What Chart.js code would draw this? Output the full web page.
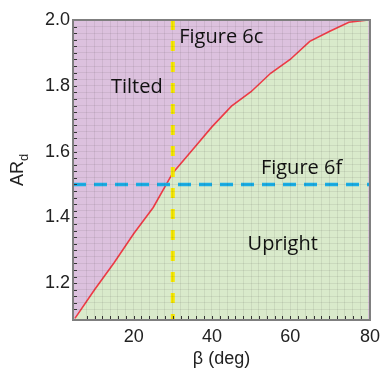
<!DOCTYPE html>
<html>
<head>
<meta charset="utf-8">
<script src="https://cdn.jsdelivr.net/npm/chart.js@4.4.0/dist/chart.umd.min.js"></script>
<style>
  html, body { margin: 0; padding: 0; background: #fff; }
  #wrap { width: 386px; height: 368px; }
</style>
</head>
<body>
<div id="wrap"><canvas id="myChart" width="386" height="368"></canvas></div>
<script>
// critical aspect ratio AR_d against tilt angle beta
var betaDeg = [5, 10, 15, 20, 25, 30, 35, 40, 45, 50, 55, 60, 65, 70, 75, 80];
var arCritical = [1.093, 1.18, 1.262, 1.35, 1.43, 1.535, 1.605, 1.675, 1.738, 1.782, 1.838, 1.88, 1.935, 1.965, 1.993, 2.0];

// the two cuts shown as dashed lines
var fig6cBeta = [30, 30];
var fig6cAR = [2.0, 1.088];
var fig6fBeta = [4.5, 80.4];
var fig6fAR = [1.5, 1.5];

var xTickLabels = [20, 40, 60, 80];
var yTickLabels = [1.2, 1.4, 1.6, 1.8, 2.0];
var xRange = [4.5, 80.4];
var yRange = [1.088, 2.0];

function toPoints(xs, ys) {
  return xs.map(function (x, i) { return { x: x, y: ys[i] }; });
}

var regionPlugin = {
  id: 'regions',
  beforeDatasetsDraw: function (chart) {
    var a = chart.chartArea, ctx = chart.ctx;
    ctx.save();
    ctx.fillStyle = '#dcc1de';
    ctx.fillRect(a.left, a.top, a.right - a.left, a.bottom - a.top);
    ctx.restore();
  },
  afterDraw: function (chart) {
    var a = chart.chartArea, ctx = chart.ctx;
    var xs = chart.scales.x, ys = chart.scales.y;
    ctx.save();
    // inward tick marks
    ctx.strokeStyle = '#333';
    ctx.lineWidth = 1;
    ctx.beginPath();
    xs.ticks.forEach(function (t) {
      var px = Math.round(xs.getPixelForValue(t.value)) + 0.5;
      ctx.moveTo(px, a.bottom);
      ctx.lineTo(px, a.bottom - 4);
    });
    ys.ticks.forEach(function (t) {
      var py = Math.round(ys.getPixelForValue(t.value)) + 0.5;
      ctx.moveTo(a.left, py);
      ctx.lineTo(a.left + 4, py);
    });
    ctx.stroke();
    // frame
    ctx.strokeStyle = '#7f7f7f';
    ctx.lineWidth = 2;
    ctx.strokeRect(a.left, a.top, a.right - a.left, a.bottom - a.top);

    // region and cut labels
    ctx.fillStyle = '#111';
    ctx.font = '20px "Open Sans"';
    ctx.textAlign = 'center';
    ctx.textBaseline = 'middle';
    ctx.fillText('Tilted', xs.getPixelForValue(20.8), ys.getPixelForValue(1.795));
    ctx.fillText('Upright', xs.getPixelForValue(58.1), ys.getPixelForValue(1.317));
    ctx.fillText('Figure 6c', xs.getPixelForValue(42.4), ys.getPixelForValue(1.947));
    ctx.fillText('Figure 6f', xs.getPixelForValue(62.9), ys.getPixelForValue(1.549));

    // y title with subscript
    ctx.translate(17, 170);
    ctx.rotate(-Math.PI / 2);
    ctx.fillStyle = '#222';
    ctx.textAlign = 'left';
    ctx.textBaseline = 'alphabetic';
    ctx.font = '18px "Liberation Sans", Arial';
    var w = ctx.measureText('AR').width;
    ctx.font = '13px "Liberation Sans", Arial';
    var wd = ctx.measureText('d').width;
    var x0 = -(w + wd) / 2;
    ctx.font = '18px "Liberation Sans", Arial';
    ctx.fillText('AR', x0, 6);
    ctx.font = '13px "Liberation Sans", Arial';
    ctx.fillText('d', x0 + w, 11);
    ctx.restore();
  }
};

function labelFor(v, list, tol, digits) {
  for (var i = 0; i < list.length; i++) {
    if (Math.abs(v - list[i]) < tol) return list[i].toFixed(digits);
  }
  return '';
}

var ctx = document.getElementById('myChart');
var chartLine = new Chart(ctx, {
  type: 'line',
  data: {
    datasets: [{
      label: 'AR_d',
      data: toPoints(betaDeg, arCritical),
      borderColor: '#ef3b45',
      borderWidth: 1.6,
      backgroundColor: '#d9eacb',
      fill: 'start',
      pointRadius: 0,
      tension: 0,
      order: 2
    }, {
      label: 'Figure 6c',
      data: toPoints(fig6cBeta, fig6cAR),
      borderColor: '#f6e800',
      borderWidth: 4,
      borderDash: [10, 11],
      fill: false,
      pointRadius: 0,
      order: 0
    }, {
      label: 'Figure 6f',
      data: toPoints(fig6fBeta, fig6fAR),
      borderColor: '#19aee6',
      borderWidth: 3.5,
      borderDash: [13, 8],
      fill: false,
      pointRadius: 0,
      order: 1
    }]
  },
  options: {
    responsive: false,
    animation: false,
    layout: { padding: { top: 20, right: 11, left: 0, bottom: 0 } },
    plugins: { legend: { display: false }, tooltip: { enabled: false } },
    scales: {
      x: {
        type: 'linear',
        min: xRange[0],
        max: xRange[1],
        border: { display: false },
        grid: { color: 'rgba(50,50,50,0.085)', lineWidth: 1, drawTicks: false, z: 1 },
        ticks: {
          stepSize: 2,
          autoSkip: false,
          maxRotation: 0,
          padding: 6,
          color: '#222',
          font: { family: '"Liberation Sans", Arial', size: 18 },
          callback: function (v) { return labelFor(v, xTickLabels, 0.5, 0); }
        },
        title: {
          display: true,
          text: 'β (deg)',
          color: '#222',
          font: { family: '"Liberation Sans", Arial', size: 18 },
          padding: { top: 0, bottom: -2 }
        },
        afterFit: function (scale) { scale.height = 48; }
      },
      y: {
        type: 'linear',
        min: yRange[0],
        max: yRange[1],
        border: { display: false },
        grid: { color: 'rgba(50,50,50,0.085)', lineWidth: 1, drawTicks: false, z: 1 },
        ticks: {
          stepSize: 0.02,
          autoSkip: false,
          padding: 3,
          color: '#222',
          font: { family: '"Liberation Sans", Arial', size: 18 },
          callback: function (v) { return labelFor(v, yTickLabels, 0.005, 1); }
        },
        afterFit: function (scale) { scale.width = 73; }
      }
    }
  },
  plugins: [regionPlugin]
});
</script>
</body>
</html>
